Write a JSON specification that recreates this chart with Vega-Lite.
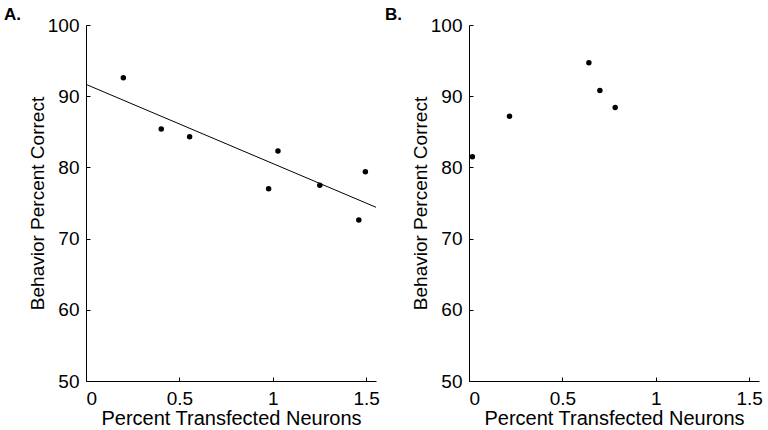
{
  "$schema": "https://vega.github.io/schema/vega-lite/v6.json",
  "background": "white",
  "padding": {"left": 4, "top": 6, "right": 2, "bottom": 2},
  "bounds": "flush",
  "spacing": 93,
  "config": {
    "font": "Liberation Sans",
    "view": {"stroke": null},
    "axis": {
      "grid": false,
      "domainColor": "black",
      "domainWidth": 1,
      "tickColor": "black",
      "tickSize": -4,
      "labelFontSize": 19,
      "titleFontSize": 20,
      "titleFontWeight": "normal",
      "labelColor": "black",
      "titleColor": "black"
    },
    "axisY": {"labelPadding": 11, "titlePadding": 0, "titleFontSize": 19},
    "axisX": {"labelPadding": 12, "titlePadding": 0, "format": "~g"},
    "title": {"fontSize": 17, "fontWeight": "bold", "color": "black", "anchor": "start", "frame": "group"}
  },
  "datasets": {
    "a": [
      {"pct": 0.200, "correct": 92.6},
      {"pct": 0.403, "correct": 85.4},
      {"pct": 0.555, "correct": 84.3},
      {"pct": 0.978, "correct": 77.0},
      {"pct": 1.028, "correct": 82.3},
      {"pct": 1.252, "correct": 77.5},
      {"pct": 1.496, "correct": 79.4},
      {"pct": 1.461, "correct": 72.6}
    ],
    "afit": [
      {"pct": 0, "correct": 91.66},
      {"pct": 1.553, "correct": 74.4}
    ],
    "b": [
      {"pct": 0.018, "correct": 81.5},
      {"pct": 0.217, "correct": 87.2},
      {"pct": 0.642, "correct": 94.7},
      {"pct": 0.701, "correct": 90.8},
      {"pct": 0.783, "correct": 88.4}
    ]
  },
  "hconcat": [
    {
      "width": 290,
      "height": 356,
      "title": {"text": "A.", "dx": -82, "offset": -8},
      "layer": [
        {
          "data": {"name": "afit"},
          "mark": {"type": "line", "color": "black", "strokeWidth": 1},
          "encoding": {
            "x": {"field": "pct", "type": "quantitative"},
            "y": {"field": "correct", "type": "quantitative"}
          }
        },
        {
          "data": {"name": "a"},
          "mark": {"type": "point", "filled": true, "color": "black", "size": 30, "opacity": 1},
          "encoding": {
            "x": {"field": "pct", "type": "quantitative", "title": "Percent Transfected Neurons",
                  "scale": {"domain": [0, 1.553], "nice": false, "zero": false},
                  "axis": {"values": [0, 0.5, 1, 1.5]}},
            "y": {"field": "correct", "type": "quantitative", "title": "Behavior Percent Correct",
                  "scale": {"domain": [50, 100], "nice": false, "zero": false},
                  "axis": {"values": [50, 60, 70, 80, 90, 100]}}
          }
        }
      ]
    },
    {
      "width": 290,
      "height": 356,
      "title": {"text": "B.", "dx": -84, "offset": -8},
      "data": {"name": "b"},
      "mark": {"type": "point", "filled": true, "color": "black", "size": 30, "opacity": 1},
      "encoding": {
        "x": {"field": "pct", "type": "quantitative", "title": "Percent Transfected Neurons",
              "scale": {"domain": [0, 1.553], "nice": false, "zero": false},
              "axis": {"values": [0, 0.5, 1, 1.5]}},
        "y": {"field": "correct", "type": "quantitative", "title": "Behavior Percent Correct",
              "scale": {"domain": [50, 100], "nice": false, "zero": false},
              "axis": {"values": [50, 60, 70, 80, 90, 100]}}
      }
    }
  ]
}
